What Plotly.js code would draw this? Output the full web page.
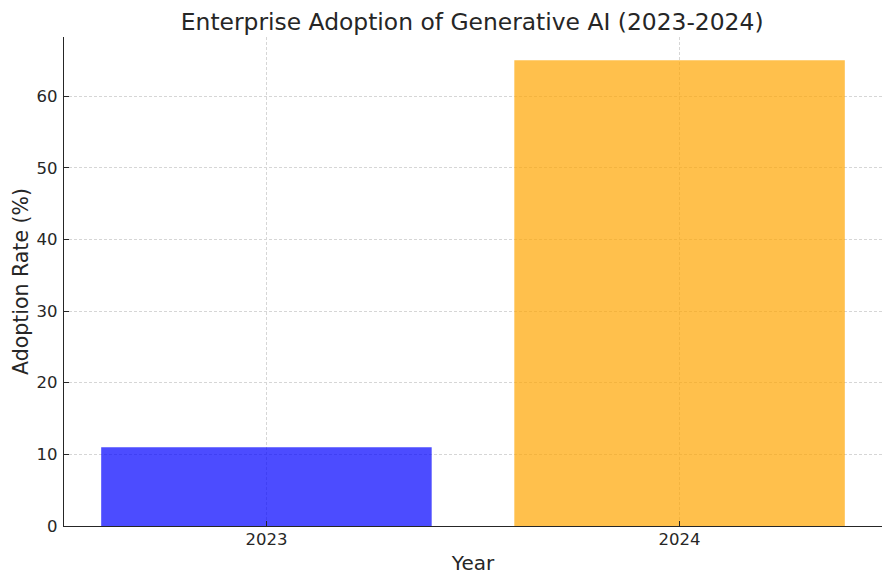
<!DOCTYPE html>
<html>
<head>
<meta charset="utf-8">
<script src="https://cdn.plot.ly/plotly-3.0.1.min.js"></script>
<style>html,body{margin:0;padding:0;background:#fff;}#chart{width:891px;height:586px;}</style>
</head>
<body>
<div id="chart"></div>
<script>
const years = ["2023", "2024"];
const adoptionRates = [11, 65];
const barColors = ["rgb(0,0,255)", "rgb(255,165,0)"];

const trace = {
  type: "bar",
  x: years,
  y: adoptionRates,
  width: 0.8,
  marker: { color: barColors, opacity: 0.7, line: { width: 0 } },
  hoverinfo: "x+y"
};

const layout = {
  width: 891,
  height: 586,
  margin: { l: 64, r: 9, t: 37, b: 60 },
  paper_bgcolor: "#ffffff",
  plot_bgcolor: "#ffffff",
  font: { family: "DejaVu Sans, sans-serif", color: "#262626" },
  title: {
    text: "Enterprise Adoption of Generative AI (2023-2024)",
    font: { size: 23.4, color: "#262626" },
    x: 0.499, xanchor: "center", y: 0.963, yanchor: "middle", xref: "paper"
  },
  showlegend: false,
  xaxis: {
    type: "category",
    range: [-0.49, 1.49],
    title: { text: "Year", font: { size: 20 }, standoff: 8 },
    tickfont: { size: 16.5 },
    showline: true, linecolor: "#262626", linewidth: 1.2,
    ticks: "inside", ticklen: 5, tickcolor: "#262626",
    ticklabelstandoff: -2,
    showgrid: true, gridcolor: "#d6d6d6", griddash: "3px,2px", gridwidth: 1,
    zeroline: false, fixedrange: true
  },
  yaxis: {
    range: [0, 68.25],
    tickvals: [0, 10, 20, 30, 40, 50, 60],
    title: { text: "Adoption Rate (%)", font: { size: 20.5 }, standoff: 2 },
    tickfont: { size: 16.5 },
    showline: true, linecolor: "#262626", linewidth: 1.2,
    ticks: "inside", ticklen: 5, tickcolor: "#262626",
    ticklabelstandoff: 2,
    showgrid: true, gridcolor: "#d6d6d6", griddash: "3px,2px", gridwidth: 1,
    zeroline: false, fixedrange: true
  }
};

Plotly.newPlot("chart", [trace], layout, { displayModeBar: false, staticPlot: true });
</script>
</body>
</html>
